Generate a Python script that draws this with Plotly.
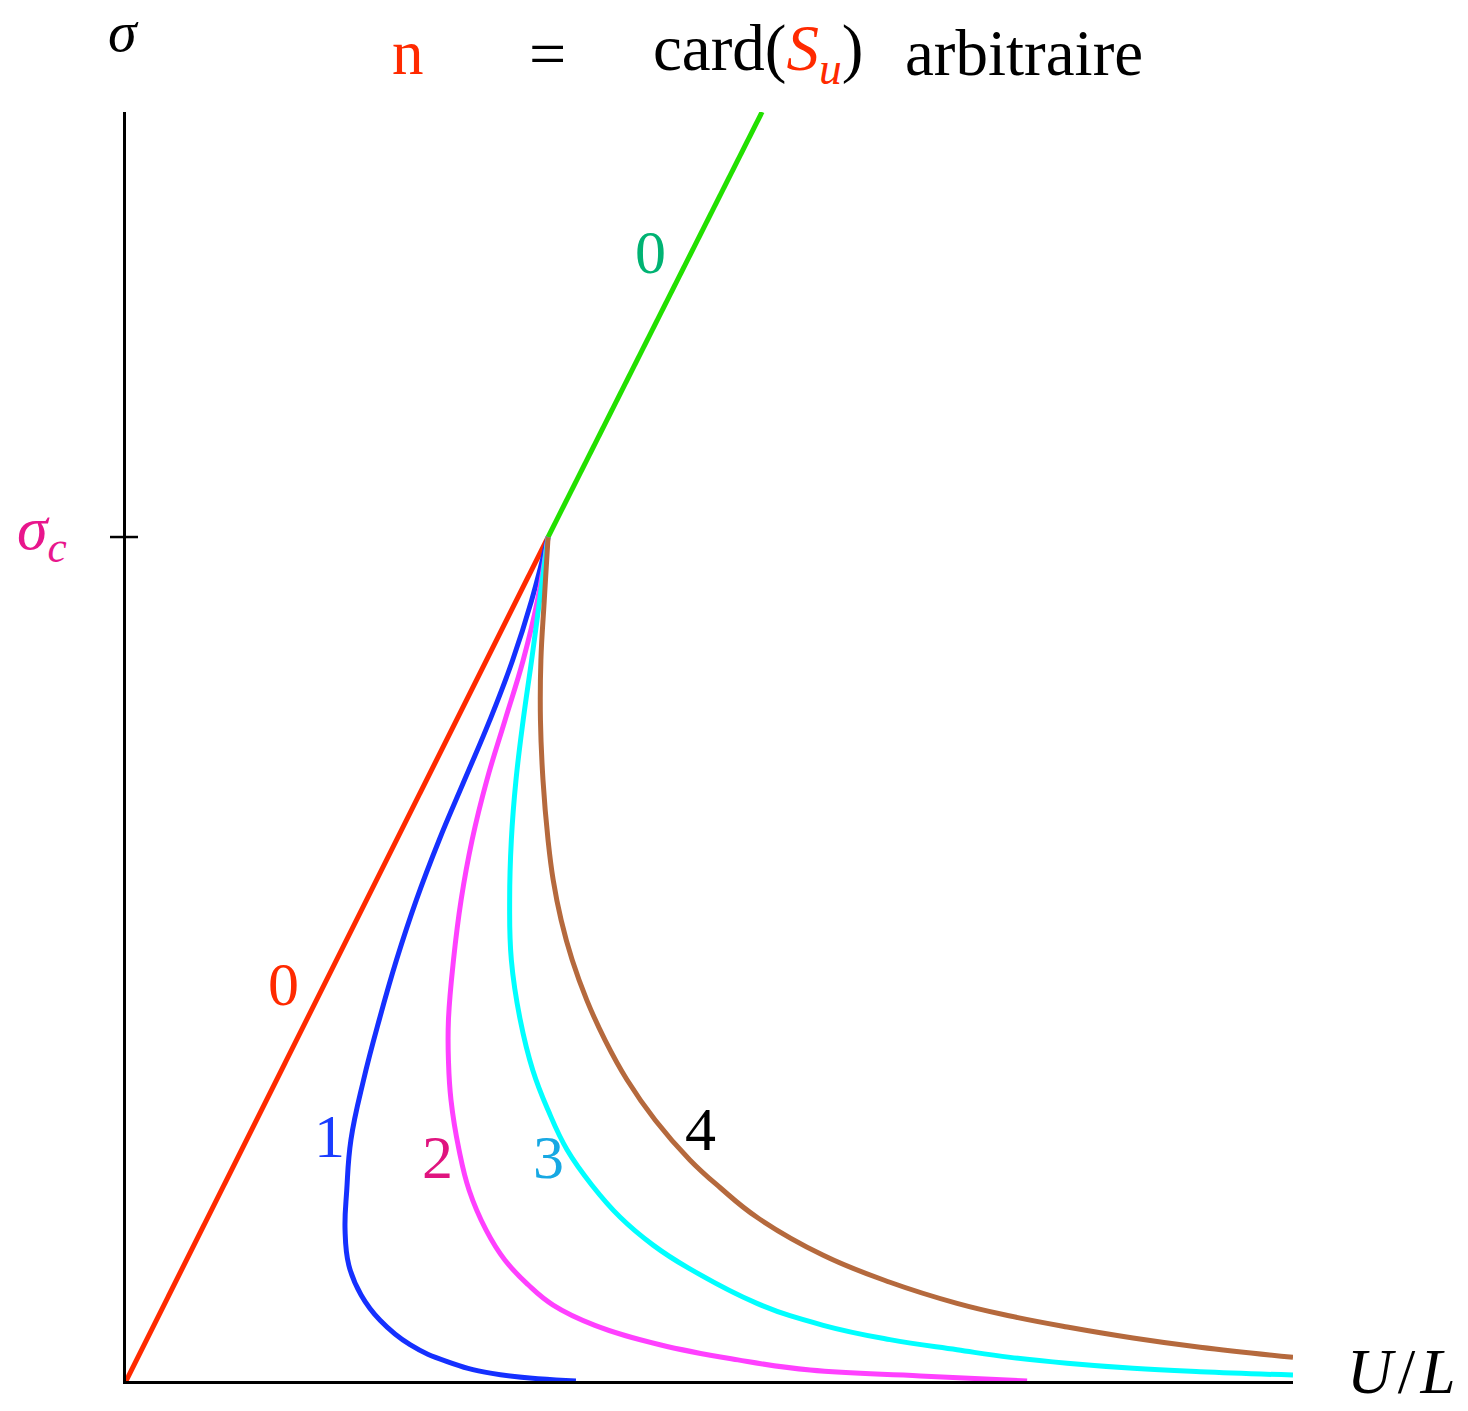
import plotly.graph_objects as go

# Axis extents (U/L horizontally, sigma vertically); sigma_c sits at 1.
X_MAX = 2.765
Y_MAX = 1.5036
SIGMA_C = 1.0

# n = 0 : linear branch, loading part (red) and continuation above sigma_c (green)
red_x = [0.0, 1.0]
red_y = [0.0, 1.0]
green_x = [1.0, 1.507]
green_y = [1.0, 1.5036]

# n = 1
blue_x = [1.000, 0.961, 0.916, 0.862, 0.802, 0.742, 0.688, 0.641, 0.600, 0.563,
          0.533, 0.523, 0.519, 0.528, 0.557, 0.602, 0.673, 0.761, 0.867, 1.066]
blue_y = [1.000, 0.925, 0.854, 0.783, 0.712, 0.641, 0.570, 0.499, 0.428, 0.357,
          0.286, 0.226, 0.179, 0.137, 0.102, 0.072, 0.043, 0.023, 0.009, 0.000]

# n = 2
magenta_x = [1.000, 0.975, 0.941, 0.898, 0.855, 0.820, 0.794, 0.776, 0.764, 0.764,
             0.770, 0.789, 0.813, 0.853, 0.898, 0.953, 1.012, 1.111, 1.265, 1.450,
             1.621, 1.882, 2.135]
magenta_y = [1.000, 0.925, 0.854, 0.783, 0.712, 0.641, 0.570, 0.499, 0.428, 0.380,
             0.333, 0.274, 0.226, 0.179, 0.143, 0.114, 0.090, 0.066, 0.043, 0.025,
             0.013, 0.006, 0.000]

# n = 3
cyan_x = [1.000, 0.980, 0.961, 0.941, 0.924, 0.913, 0.909, 0.913, 0.934, 0.964,
          1.000, 1.045, 1.104, 1.171, 1.249, 1.332, 1.495, 1.652, 1.810, 1.969,
          2.095, 2.230, 2.386, 2.545, 2.765]
cyan_y = [1.000, 0.925, 0.854, 0.783, 0.712, 0.641, 0.570, 0.499, 0.428, 0.368,
          0.321, 0.274, 0.232, 0.194, 0.161, 0.134, 0.092, 0.066, 0.049, 0.037,
          0.028, 0.021, 0.015, 0.011, 0.007]

# n = 4
brown_x = [1.000, 0.991, 0.983, 0.982, 0.988, 1.000, 1.012, 1.031, 1.057, 1.092,
           1.135, 1.187, 1.254, 1.336, 1.408, 1.495, 1.652, 1.810, 1.969, 2.095,
           2.230, 2.386, 2.545, 2.765]
brown_y = [1.000, 0.925, 0.854, 0.783, 0.712, 0.641, 0.594, 0.546, 0.499, 0.451,
           0.404, 0.357, 0.309, 0.262, 0.229, 0.194, 0.149, 0.117, 0.092, 0.077,
           0.064, 0.051, 0.040, 0.028]

FONT = "Liberation Serif"
LW = 5

# plot area in layout pixels (used to place text outside the axes)
L, R, T, B = 126, 175, 112, 30
W, H = 1468, 1411
PW, PH = W - L - R, H - T - B

fig = go.Figure()


def curve(x, y, color, smooth=True):
    fig.add_trace(go.Scatter(
        x=x, y=y, mode="lines", cliponaxis=False, hoverinfo="skip",
        line=dict(color=color, width=LW,
                  shape="spline" if smooth else "linear", smoothing=1.2),
    ))


curve(red_x, red_y, "#FF2A00", smooth=False)
curve(green_x, green_y, "#22E000", smooth=False)
curve(blue_x, blue_y, "#1530FF")
curve(magenta_x, magenta_y, "#FF40FF")
curve(cyan_x, cyan_y, "#00FFFF")
curve(brown_x, brown_y, "#B5693D")


def label(x, y, text, color, size=62):
    fig.add_annotation(x=x, y=y, xref="x", yref="y", text=text, showarrow=False,
                       font=dict(family=FONT, size=size, color=color),
                       xanchor="center", yanchor="middle")


def outer(px, py, text, color, size=63, xanchor="center"):
    fig.add_annotation(x=(px - L) / PW, y=(H - B - py) / PH, xref="paper", yref="paper",
                       text=text, showarrow=False,
                       font=dict(family=FONT, size=size, color=color),
                       xanchor=xanchor, yanchor="middle")


# branch labels
label(1.242, 1.338, "0", "#00B373")
label(0.374, 0.470, "0", "#FF2A00")
label(0.481, 0.290, "1", "#1A3CFF")
label(0.739, 0.266, "2", "#E0147F")
label(1.000, 0.266, "3", "#17A8E3")
label(1.360, 0.299, "4", "#000000")

# axis names
outer(123, 31, "<i>σ</i>", "#000000", size=58)
outer(15, 532, "<i>σ</i><sub><i>c</i></sub>", "#E8168C", size=62, xanchor="left")
outer(1345, 1372, "<i>U</i>\u200a/\u200a<i>L</i>", "#000000", size=63, xanchor="left")

# header line
outer(408, 53, "n", "#FF2A00")
outer(547, 53, "=", "#000000", size=66)
outer(758, 53, "card(<span style='color:#FF2A00'><i>S</i><sub><i>u</i></sub></span>)", "#000000", size=65)
outer(1024, 53, "arbitraire", "#000000", size=65)

# sigma_c tick crossing the vertical axis
yc = SIGMA_C / Y_MAX
fig.add_shape(type="line", xref="paper", yref="paper", x0=-16 / PW, x1=12 / PW,
              y0=yc, y1=yc, line=dict(color="black", width=2.5))

fig.update_xaxes(range=[0, X_MAX], showgrid=False, zeroline=False,
                 showticklabels=False, ticks="", showline=True,
                 linecolor="black", linewidth=2.5)
fig.update_yaxes(range=[0, Y_MAX], showgrid=False, zeroline=False,
                 showticklabels=False, ticks="", showline=True,
                 linecolor="black", linewidth=2.5)

fig.update_layout(
    width=W, height=H,
    margin=dict(l=L, r=R, t=T, b=B),
    plot_bgcolor="white", paper_bgcolor="white",
    showlegend=False,
)

fig.write_html("out.html")
